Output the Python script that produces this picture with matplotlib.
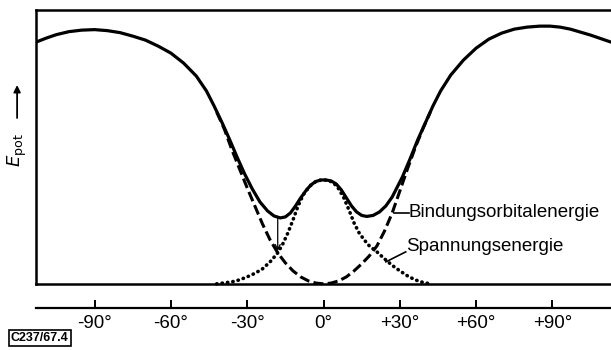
import matplotlib
matplotlib.use("Agg")
import matplotlib.pyplot as plt
from matplotlib.patches import FancyArrowPatch

# angle of rotation (deg) and energy (arbitrary units)
total_angle = [-113, -109, -105, -100, -95, -90, -85, -80, -75, -70, -65, -60,
               -55, -50, -46, -43, -40, -37, -34, -31, -28, -25, -22, -19.5,
               -17, -15, -13, -11, -9, -7, -5, -3, -1, 1, 3, 5, 7, 9, 11, 13,
               15, 17, 19.5, 22, 24.5, 27, 29, 31, 34, 37, 40, 43, 46, 50, 55,
               60, 65, 70, 75, 80, 85, 89, 93, 97, 101, 105, 109, 113]
total_energy = [242, 246, 249.5, 252.5, 254, 254.5, 253.5, 251.5, 248, 244, 238, 231,
                221, 208, 193, 178, 162, 145, 127, 110, 95, 82, 73, 68,
                66, 67, 71, 78, 86, 93, 99, 102.5, 104, 104, 103, 100, 94, 86, 78, 72,
                68.5, 67.5, 68.5, 72, 78, 87, 97, 107, 125, 144, 161, 178, 193, 209, 224,
                236, 245, 251, 255, 257, 258, 258, 257, 255, 252, 249, 245.5, 242]

orbital_angle = [-42, -39, -36, -33, -30, -27, -24, -21, -18, -15, -12, -9, -6, -3,
                 0, 3, 6, 9, 12, 15, 18, 21, 24, 27, 30, 33, 36, 39, 42]
orbital_energy = [172, 155, 134, 115, 96, 78, 60, 44, 31, 21, 13, 7, 3, 0.8,
                  0, 0.8, 3, 7, 13, 20, 28, 38, 53, 71, 93, 115, 136, 155, 172]

strain_angle = [-42, -39, -36, -33, -30, -27, -24, -21, -18, -16, -14, -12, -10,
                -8, -6, -4, -2, 0, 2, 4, 6, 8, 10, 12, 14, 16, 18, 21, 24, 27,
                30, 33, 36, 39, 42]
strain_energy = [0, 1, 2, 4, 7, 10.5, 15, 22, 31, 40, 51, 64, 78,
                 89, 96, 101, 103.5, 104, 103.5, 101, 95, 86, 74, 61, 51, 44, 38, 32, 25, 18.5,
                 13, 8, 4, 1.5, 0]

tick_values = [-90, -60, -30, 0, 30, 60, 90]
tick_labels = ["-90°", "-60°", "-30°", "0°", "+30°", "+60°", "+90°"]

FONT = ["Liberation Sans Narrow", "Liberation Sans", "DejaVu Sans"]

fig = plt.figure(figsize=(6.11, 3.5), dpi=100)
ax = fig.add_axes([0.059, 0.189, 0.941, 0.782])

ax.plot(total_angle, total_energy, color="black", lw=2.3,
        solid_capstyle="round", solid_joinstyle="round")
ax.plot(orbital_angle, orbital_energy, color="black", lw=2.2,
        linestyle=(0, (3.3, 1.4)), clip_on=False)
ax.plot(strain_angle, strain_energy, color="black", lw=2.6,
        linestyle=(0, (0.1, 1.4)), dash_capstyle="round", clip_on=False)

# arrow from the minimum down to the crossing point
ax.annotate("", xy=(-18, 33), xytext=(-18, 66),
            arrowprops=dict(arrowstyle="->", lw=0.9, color="black",
                            mutation_scale=9, shrinkA=0, shrinkB=0))

ax.set_xlim(-113, 113)
ax.set_ylim(0, 274)
ax.set_xticks([])
ax.set_yticks([])
for side in ["left", "top", "bottom"]:
    ax.spines[side].set_linewidth(1.8)
ax.spines["right"].set_visible(False)

# labels with leader lines
ax.plot([27.6, 33.5], [71, 71], color="black", lw=1.2)
ax.text(33.5, 71, "Bindungsorbitalenergie", family=FONT, fontsize=13.5,
        va="center", ha="left")
ax.plot([24.5, 32.3], [22, 32], color="black", lw=1.2)
ax.text(32.6, 37, "Spannungsenergie", family=FONT, fontsize=13.5,
        va="center", ha="left")

# separate angle axis below the box
sec = ax.secondary_xaxis(-0.0876)
sec.set_xticks(tick_values)
sec.set_xticklabels(tick_labels, family=FONT, fontsize=13.5)
sec.tick_params(direction="in", length=6, width=1.4, pad=5)
sec.spines["bottom"].set_linewidth(1.6)

# y label with arrow
fig.text(0.028, 0.57, r"$E_{\mathrm{pot}}$", rotation=90, fontsize=13,
         ha="center", va="center")
fig.add_artist(FancyArrowPatch(
    (0.028, 0.655), (0.028, 0.765), transform=fig.transFigure,
    arrowstyle="-|>", mutation_scale=10, lw=1.3, color="black"))

fig.text(0.018, 0.018, "C237/67.4", family=FONT, fontsize=9, fontweight="bold",
         ha="left", va="bottom",
         bbox=dict(boxstyle="square,pad=0.15", fc="white", ec="black", lw=1.2))

fig.savefig("out.png", dpi=100)
